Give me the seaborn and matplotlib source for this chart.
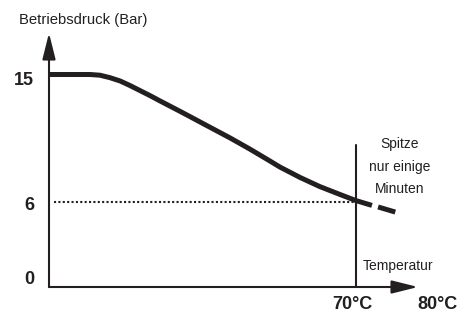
import matplotlib
matplotlib.use('Agg')
import matplotlib.pyplot as plt
import seaborn as sns
import pandas as pd

# Werte
temperatur = [20.0, 26.7, 28.3, 29.9, 31.6, 33.2, 34.8, 36.5, 38.1, 39.7, 41.3, 43.0,
              46.2, 49.5, 52.7, 56.0, 57.6, 60.9, 64.1, 67.4, 70.0, 72.6]
druck = [15.0, 15.0, 14.95, 14.78, 14.54, 14.22, 13.87, 13.5, 13.13, 12.77, 12.41, 12.02,
         11.28, 10.52, 9.74, 8.89, 8.47, 7.73, 7.09, 6.53, 6.10, 5.76]
spitze_temperatur = [73.6, 76.4]
spitze_druck = [5.65, 5.29]

y_werte = [15, 6, 0]
y_labels = ['15', '6', '0']
x_werte = [70, 80]
x_labels = ['70°C', '80°C']
grenze_temp = 70
grenze_druck = 6
linie_oben = 10

df = pd.DataFrame({'Temperatur': temperatur, 'Druck': druck})
df_spitze = pd.DataFrame({'Temperatur': spitze_temperatur, 'Druck': spitze_druck})

sns.set_theme(style='white')
plt.rcParams['font.family'] = ['Liberation Sans', 'DejaVu Sans']

farbe = '#231f20'
W, H = 473, 313
fig = plt.figure(figsize=(W / 100, H / 100), dpi=100)
ax = fig.add_axes([49 / W, 26 / H, 369 / W, 254 / H])

sns.lineplot(data=df, x='Temperatur', y='Druck', ax=ax, color=farbe, lw=3.6,
             solid_capstyle='butt', solid_joinstyle='round', sort=False)
sns.lineplot(data=df_spitze, x='Temperatur', y='Druck', ax=ax, color=farbe, lw=3.6,
             solid_capstyle='butt', sort=False)

# gepunktete Linie bei 6 bar
ax.plot([20.8, grenze_temp], [grenze_druck, grenze_druck], color=farbe, lw=1.5,
        linestyle=(0, (1, 1.1)))
# senkrechte Linie bei 70°C
ax.plot([grenze_temp, grenze_temp], [0, linie_oben], color=farbe, lw=1.5)

ax.set_xlim(20, 80.1)
ax.set_ylim(0, 17.93)
for s in ax.spines.values():
    s.set_visible(False)
ax.set_xticks([])
ax.set_yticks([])
ax.set_xlabel('')
ax.set_ylabel('')

# Achsenpfeile
pfeil = dict(arrowstyle='-|>,head_length=0.8,head_width=0.2', color=farbe, lw=1.5,
             mutation_scale=20, shrinkA=0, shrinkB=0)
ax.annotate('', xy=(0, 1), xytext=(0, 0), xycoords='axes fraction', arrowprops=pfeil)
ax.annotate('', xy=(1, 0), xytext=(0, 0), xycoords='axes fraction', arrowprops=pfeil)

# y-Beschriftungen
y_versatz = [-6, -3, 7]
for v, lab, dy in zip(y_werte, y_labels, y_versatz):
    ax.annotate(lab, xy=(0, v), xycoords=('axes fraction', 'data'), xytext=(-15, dy),
                textcoords='offset pixels', ha='right', va='center',
                fontsize=13, fontweight='bold', color=farbe)

# x-Beschriftungen
x_versatz = [-3.5, 20]
for v, lab, dx in zip(x_werte, x_labels, x_versatz):
    ax.annotate(lab, xy=(v, 0), xycoords=('data', 'axes fraction'), xytext=(dx, -17.5),
                textcoords='offset pixels', ha='center', va='center',
                fontsize=13, fontweight='bold', color=farbe)

fig.text(19 / W, 1 - 20 / H, 'Betriebsdruck (Bar)', ha='left', va='center',
         fontsize=10.7, color=farbe)
ax.annotate('Temperatur', xy=(grenze_temp, 0), xytext=(7, 21), textcoords='offset pixels',
            ha='left', va='center', fontsize=10, color=farbe)
for i, zeile in enumerate(['Spitze', 'nur einige', 'Minuten']):
    ax.annotate(zeile, xy=(grenze_temp, linie_oben), xytext=(44, 1 - 22.5 * i),
                textcoords='offset pixels', ha='center', va='center',
                fontsize=10, color=farbe)

fig.savefig('out.png', dpi=100)
